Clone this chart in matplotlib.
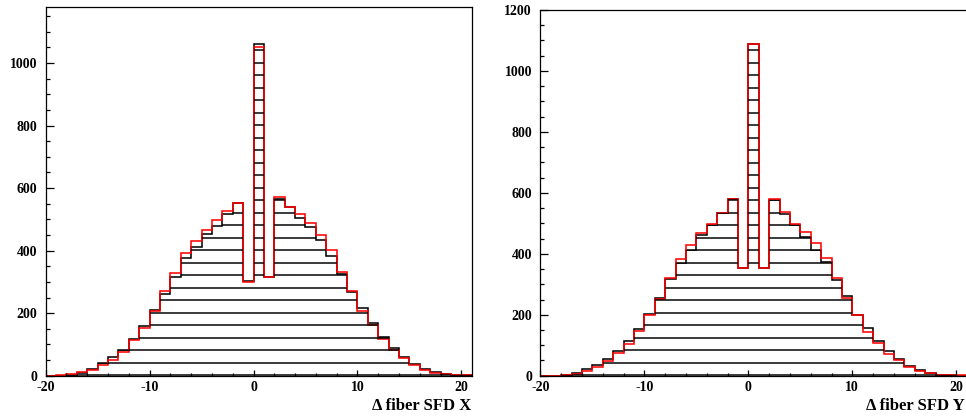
import numpy as np
import matplotlib
matplotlib.use("Agg")
import matplotlib.pyplot as plt
from matplotlib.ticker import MultipleLocator, FuncFormatter
from matplotlib.collections import LineCollection

edges = np.arange(-20, 22, 1)

x_black = [0, 0, 3, 9, 22, 40, 61, 83, 116, 158, 210, 261, 317, 375, 410, 452, 479, 517, 551, 303,
           1060, 316, 565, 538, 503, 474, 434, 384, 325, 269, 215, 167, 124, 89, 60, 39, 21, 12, 4, 1, 1]
x_red = [0, 1, 4, 12, 19, 34, 51, 77, 115, 154, 206, 270, 329, 391, 432, 466, 498, 527, 551, 301,
         1052, 316, 572, 538, 517, 489, 450, 402, 333, 272, 208, 162, 116, 82, 55, 34, 19, 10, 4, 1, 1]

y_black = [0, 0, 2, 9, 21, 36, 55, 81, 113, 154, 202, 256, 316, 371, 412, 462, 493, 533, 579, 354,
           1087, 354, 577, 531, 495, 456, 412, 373, 314, 260, 200, 155, 114, 81, 55, 33, 19, 10, 3, 1, 0]
y_red = [0, 0, 3, 5, 16, 30, 49, 73, 104, 147, 198, 253, 319, 382, 428, 469, 498, 533, 579, 354,
         1087, 354, 579, 538, 497, 473, 437, 385, 319, 256, 198, 144, 106, 71, 51, 30, 16, 8, 3, 1, 1]

xlabels = ["\u0394 fiber SFD X", "\u0394 fiber SFD Y"]
ylims = [1178, 1200]

plt.rcParams['font.family'] = ['Liberation Serif', 'DejaVu Serif']
plt.rcParams['font.weight'] = 'bold'
plt.rcParams['xtick.labelsize'] = 6.6
plt.rcParams['ytick.labelsize'] = 6.6

W, H, DPI = 966, 416, 150
HATCH_STEP_PX = 12.5     # spacing of the horizontal hatch lines (device pixels)
HATCH_PHASE_PX = 40.6    # device-anchored phase, from the figure bottom

fig = plt.figure(figsize=(W / DPI, H / DPI), dpi=DPI)

rects = [(45.7, 7.3, 471.7, 375.7), (540.3, 10.0, 966.7, 375.7)]

panels = [(x_black, x_red), (y_black, y_red)]
for i, ((blk, red), (l, t, r, b)) in enumerate(zip(panels, rects)):
    ax = fig.add_axes([l / W, (H - b) / H, (r - l) / W, (b - t) / H])
    ax.set_xlim(-20, 21)
    ax.set_ylim(0, ylims[i])
    fill = ax.stairs(blk, edges, fill=True, facecolor='none', edgecolor='none', linewidth=0)
    # device-anchored horizontal hatch (fill style of the black histogram)
    inv = ax.transData.inverted()
    ys_disp = np.arange(HATCH_PHASE_PX, H, HATCH_STEP_PX)
    ys = [inv.transform((0, yd))[1] for yd in ys_disp]
    segs = [[(-20, yv), (21, yv)] for yv in ys]
    lc = LineCollection(segs, colors='black', linewidths=0.72)
    ax.add_collection(lc, autolim=False)
    lc.set_clip_path(fill)
    ax.stairs(blk, edges, color='black', linewidth=0.75, baseline=0)
    ax.stairs(red, edges, color='red', linewidth=0.75, baseline=0)
    ax.set_xlim(-20, 21)
    ax.set_ylim(0, ylims[i])
    ax.xaxis.set_major_locator(MultipleLocator(10))
    ax.xaxis.set_minor_locator(MultipleLocator(2))
    ax.yaxis.set_major_locator(MultipleLocator(200))
    ax.yaxis.set_minor_locator(MultipleLocator(50))
    fmt = FuncFormatter(lambda v, p: "%d" % v)
    ax.xaxis.set_major_formatter(fmt)
    ax.yaxis.set_major_formatter(fmt)
    ax.tick_params(which='both', direction='in', top=False, right=False, width=0.6)
    ax.tick_params(axis='y', which='major', length=3.7, pad=4.0)
    ax.tick_params(axis='y', which='minor', length=1.8)
    ax.tick_params(axis='x', which='major', length=3.0, pad=2.5)
    ax.tick_params(axis='x', which='minor', length=1.5)
    for s in ax.spines.values():
        s.set_linewidth(0.6)
    xr = min(r, W - 1)
    fig.text(xr / W, (H - 410.5) / H, xlabels[i], ha='right', va='baseline',
             fontsize=8.0, fontweight='bold')

fig.savefig("out.png", dpi=DPI)
